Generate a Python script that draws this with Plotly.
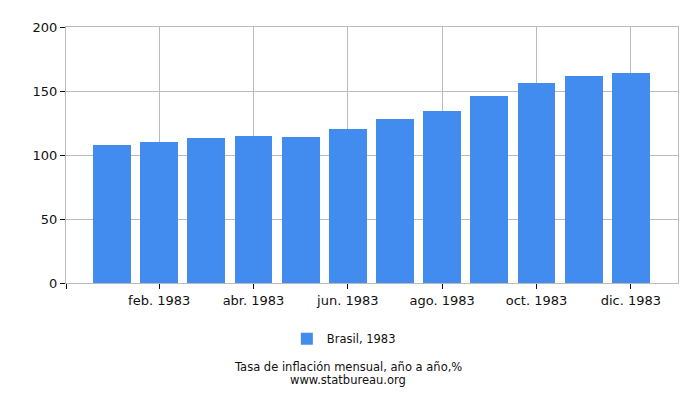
import plotly.graph_objects as go

months = list(range(12))
values = [108.0, 110.3, 113.4, 115.0, 114.2, 120.3, 128.0, 134.1, 146.4, 156.3, 161.7, 164.0]
tick_pos = [-0.975, 1, 3, 5, 7, 9, 11]
tick_labels = ["", "feb. 1983", "abr. 1983", "jun. 1983", "ago. 1983", "oct. 1983", "dic. 1983"]

fig = go.Figure()
fig.add_trace(go.Bar(x=months, y=values, name="Brasil, 1983",
                     marker=dict(color="#428bef", line=dict(width=0)), width=0.805))

# page body has an 8px margin, so margins are shifted to land the plot where the reference has it
fig.update_layout(
    width=700, height=400,
    margin=dict(l=58, r=30, t=14, b=125),
    paper_bgcolor="white", plot_bgcolor="white",
    font=dict(family="DejaVu Sans", size=13, color="#111"),
    showlegend=True,
    legend=dict(orientation="h", x=0.454, xanchor="center", y=-0.218, yanchor="middle",
                font=dict(size=11.5)),
    bargap=0,
)
fig.update_xaxes(range=[-0.975, 12], tickvals=tick_pos, ticktext=tick_labels,
                 showgrid=True, gridcolor="#bbbbbb", gridwidth=1,
                 ticks="outside", ticklen=5, tickcolor="#111",
                 showline=True, linecolor="#bbbbbb", mirror=True, zeroline=False)
fig.update_yaxes(range=[0, 200], tickvals=[0, 50, 100, 150, 200],
                 showgrid=True, gridcolor="#bbbbbb", gridwidth=1,
                 ticks="outside", ticklen=5, tickcolor="#111",
                 showline=True, linecolor="#bbbbbb", mirror=True, zeroline=False)

fig.add_annotation(text="Tasa de inflación mensual, año a año,%",
                   xref="paper", yref="paper", x=0.46, y=-0.33, yanchor="middle",
                   showarrow=False, font=dict(size=11.5, color="#111"))
fig.add_annotation(text="www.statbureau.org",
                   xref="paper", yref="paper", x=0.46, y=-0.378, yanchor="middle",
                   showarrow=False, font=dict(size=11.5, color="#111"))

fig.write_html("out.html")
